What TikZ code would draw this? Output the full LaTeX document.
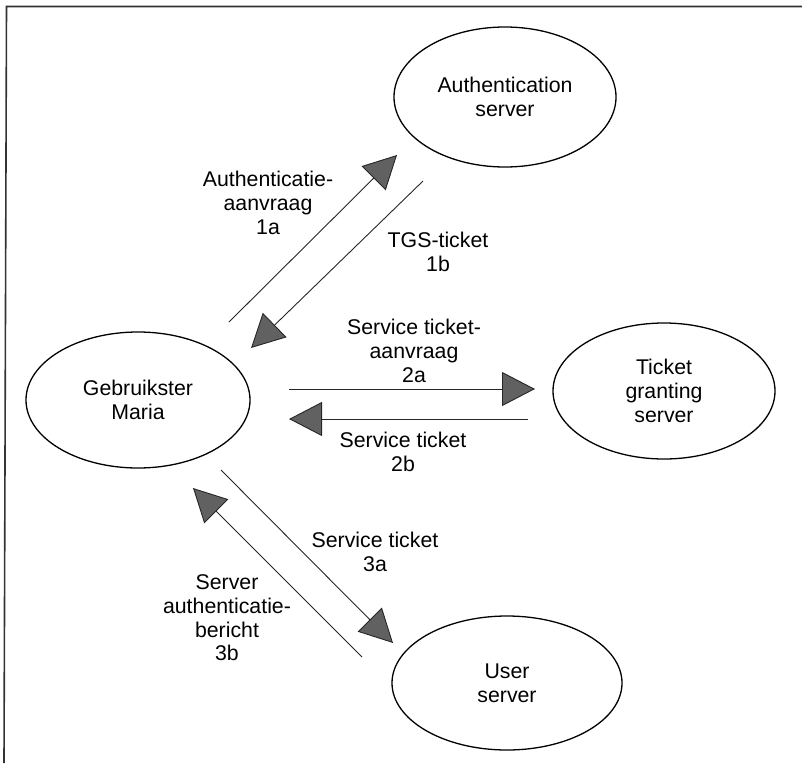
\documentclass[tikz,border=0pt]{standalone}
\usepackage{fontspec}
\setmainfont{Liberation Sans}
\usetikzlibrary{shapes.geometric,arrows.meta}
\newcommand\lblfont{\fontsize{21.3}{23.7}\selectfont}
\begin{document}
\begin{tikzpicture}[x=1pt,y=-1pt,
  host/.style={ellipse,draw=black,line width=1.3pt,inner sep=0pt,align=center,font=\lblfont},
  msg/.style={align=center,font=\lblfont,inner sep=0pt},
  flow/.style={draw=black!85,line width=0.9pt,
    -{Triangle[length=33pt,width=34pt,fill=black!62]}},
  frame/.style={draw=black!80,line width=1.6pt}
]
\useasboundingbox (0,0) rectangle (802,763);

% frame (top and left edges)
\draw[frame] (4,763) -- (6.5,6.5) -- (802,6.5);

% hosts
\node[host,minimum width=222pt,minimum height=140pt] (as)    at (505,97)  {Authentication\\server};
\node[host,minimum width=224pt,minimum height=136pt] (maria) at (138,400) {Gebruikster\\Maria};
\node[host,minimum width=222pt,minimum height=136pt] (tgs)   at (664,391) {Ticket\\granting\\server};
\node[host,minimum width=230pt,minimum height=134pt] (user)  at (507,683) {User\\server};

% arrow end points
\coordinate (m1a) at (229,322);  \coordinate (a1a) at (397,155);
\coordinate (a1b) at (423,181);  \coordinate (m1b) at (251,348);
\coordinate (m2a) at (289,389);  \coordinate (t2a) at (535,389);
\coordinate (t2b) at (528,419);  \coordinate (m2b) at (289,419);
\coordinate (m3a) at (221,470);  \coordinate (u3a) at (393,643);
\coordinate (u3b) at (362,657);  \coordinate (m3b) at (193,488);

% messages
\draw[flow] (m1a) -- (a1a);
\draw[flow] (a1b) -- (m1b);
\draw[flow] (m2a) -- (t2a);
\draw[flow] (t2b) -- (m2b);
\draw[flow] (m3a) -- (u3a);
\draw[flow] (u3b) -- (m3b);

% message labels
\node[msg] (l1a) at (268,203) {Authenticatie-\\aanvraag\\1a};
\node[msg] (l1b) at (438,252) {TGS-ticket\\1b};
\node[msg] (l2a) at (414,351) {Service ticket-\\aanvraag\\2a};
\node[msg] (l2b) at (403,452) {Service ticket\\2b};
\node[msg] (l3a) at (375,552) {Service ticket\\3a};
\node[msg] (l3b) at (227,618) {Server\\authenticatie-\\bericht\\3b};
\end{tikzpicture}
\end{document}
